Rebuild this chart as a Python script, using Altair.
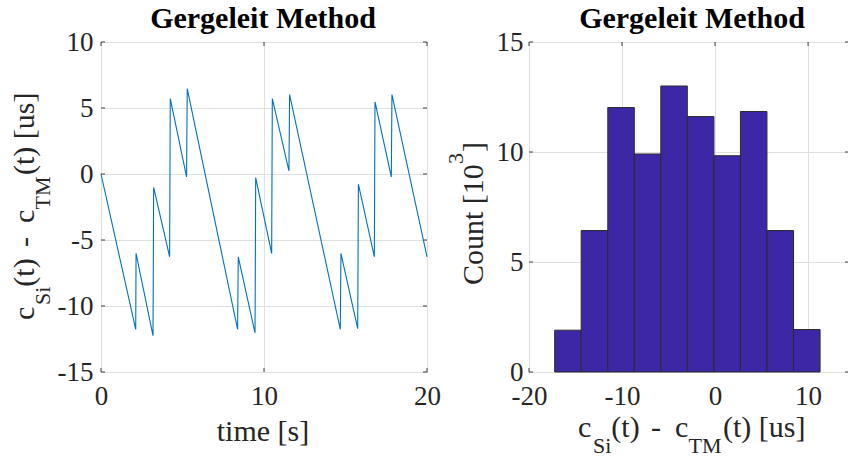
import altair as alt
import pandas as pd

# ---------------- data ----------------
time_s = [0.0, 2.13, 2.15, 3.19, 3.23, 4.21, 4.25, 5.25, 5.29, 8.38, 8.42, 9.45, 9.49,
          10.47, 10.51, 11.53, 11.57, 14.68, 14.72, 15.75, 15.79, 16.77, 16.81, 17.81,
          17.85, 20.0]
diff_us = [0.0, -11.77, -6.02, -12.25, -1.02, -6.27, 5.71, -0.22, 6.47, -11.77, -6.27,
           -12.03, -0.27, -6.02, 5.71, 0.24, 6.02, -11.77, -6.02, -11.72, -0.77, -6.27,
           5.46, -0.22, 6.02, -6.27]

bin_lo = [-17.24, -14.39, -11.53, -8.68, -5.83, -2.98, -0.12, 2.73, 5.58, 8.44]
bin_hi = [-14.39, -11.53, -8.68, -5.83, -2.98, -0.12, 2.73, 5.58, 8.44, 11.29]
count_k = [1.90, 6.43, 12.02, 9.91, 13.00, 11.61, 9.83, 11.84, 6.43, 1.93]

left_xticks = [0, 10, 20]
left_yticks = [-15, -10, -5, 0, 5, 10]
right_xticks = [-20, -10, 0, 10]
right_yticks = [0, 5, 10, 15]

title_text = "Gergeleit Method"
left_xlabel = "time [s]"
right_ylabel_main = "Count [10"
right_ylabel_sup = "3"
right_ylabel_end = "]"
diff_pieces = ["c", "Si", "(t)", "-", "c", "TM", "(t) [us]"]

# ---------------- style ----------------
FONT = "Liberation Serif"
TXT = "#262626"
AXC = "#404040"
GRID = "#e0e0e0"
LW, LH = 326, 330
RW, RH = 320, 330

line_df = pd.DataFrame({"t": time_s, "d": diff_us, "i": list(range(len(time_s)))})
hist_df = pd.DataFrame({"lo": bin_lo, "hi": bin_hi, "n": count_k})
one = pd.DataFrame({"k": [0]})


def make_axis(vals, pad):
    return alt.Axis(values=vals, title="", grid=True, gridColor=GRID, gridWidth=1,
                    ticks=False, tickSize=0, domain=False, labelFont=FONT,
                    labelFontSize=27, labelColor=TXT, labelPadding=pad,
                    labelFlush=False, labelOverlap=False,
                    labelExpr="toString(datum.value)")


def piece(txt, x, y, size=30, angle=0, weight="normal", align="left", color=TXT):
    return alt.Chart(one).mark_text(
        font=FONT, fontSize=size, fontWeight=weight, align=align,
        baseline="alphabetic", angle=angle, color=color
    ).encode(x=alt.value(x), y=alt.value(y), text=alt.value(txt))


def tick_layers(xs, ys, xvals, yvals, w, h, L=4):
    xdf = pd.DataFrame({"v": xvals})
    ydf = pd.DataFrame({"v": yvals})
    out = []
    for (a, b) in [(0, L), (w - L, w)]:
        out.append(alt.Chart(ydf).mark_rule(color=AXC, strokeWidth=1).encode(
            y=alt.Y("v:Q", scale=ys[0], axis=ys[1]), x=alt.value(a), x2=alt.value(b)))
    for (a, b) in [(h - L, h), (0, L)]:
        out.append(alt.Chart(xdf).mark_rule(color=AXC, strokeWidth=1).encode(
            x=alt.X("v:Q", scale=xs[0], axis=xs[1]), y=alt.value(a), y2=alt.value(b)))
    return out


# ---------------- left panel ----------------
lxs = alt.Scale(domain=[0, 20], nice=False)
lys = alt.Scale(domain=[-15, 10], nice=False)
lxa = make_axis(left_xticks, 11)
lya = make_axis(left_yticks, 8)

line = alt.Chart(line_df).mark_line(color="#0072BD", strokeWidth=1.1).encode(
    x=alt.X("t:Q", scale=lxs, axis=lxa),
    y=alt.Y("d:Q", scale=lys, axis=lya),
    order="i:Q",
)

# piece offsets along the text direction (c, Si, (t), -, c, TM, (t) [us])
offs = [0, 15, 33.3, 73, 97, 110.5, 145]

ly_start = 278
left_title_layers = [
    piece(title_text, 162, -14, size=30, weight="bold", align="center", color="#000000"),
    piece(left_xlabel, 162, 399, size=30, align="center"),
]
for txt, o in zip(diff_pieces, offs):
    sub = txt in ("Si", "TM")
    left_title_layers.append(
        piece(txt, -51 if sub else -67, ly_start - o, size=22 if sub else 30, angle=270))

left = alt.layer(
    *tick_layers((lxs, lxa), (lys, lya), left_xticks, left_yticks, LW, LH),
    line,
    *left_title_layers,
).properties(width=LW, height=LH)

# ---------------- right panel ----------------
rxs = alt.Scale(domain=[-20, 14.4], nice=False)
rys = alt.Scale(domain=[0, 15], nice=False)
rxa = make_axis(right_xticks, 11)
rya = make_axis(right_yticks, 6)

bars = alt.Chart(hist_df).mark_rect(fill="#3d27a6", stroke="#2b2b2b", strokeWidth=1).encode(
    x=alt.X("lo:Q", scale=rxs, axis=rxa),
    x2="hi:Q",
    y=alt.Y("n:Q", scale=rys, axis=rya),
    y2=alt.datum(0),
)

right_title_layers = [
    piece(title_text, 163, -14, size=30, weight="bold", align="center", color="#000000"),
    piece(right_ylabel_main, -46, 243, angle=270),
    piece(right_ylabel_sup, -66, 122, size=22, angle=270),
    piece(right_ylabel_end, -46, 110, angle=270),
]
rx_start = 49
for txt, o in zip(diff_pieces, offs):
    sub = txt in ("Si", "TM")
    right_title_layers.append(
        piece(txt, rx_start + o, 410.7 if sub else 394.7, size=22 if sub else 30))

right = alt.layer(
    *tick_layers((rxs, rxa), (rys, rya), right_xticks, right_yticks, RW, RH),
    bars,
    *right_title_layers,
).properties(width=RW, height=RH)

chart = alt.hconcat(left, right, spacing=102, bounds="flush").properties(
    autosize=alt.AutoSizeParams(type="none"),
    padding={"left": 101, "top": 42, "right": 747, "bottom": 422},
    background="white",
).configure_view(stroke=AXC, strokeWidth=1)

chart.save("out.html", embed_options={"renderer": "svg", "actions": False})
